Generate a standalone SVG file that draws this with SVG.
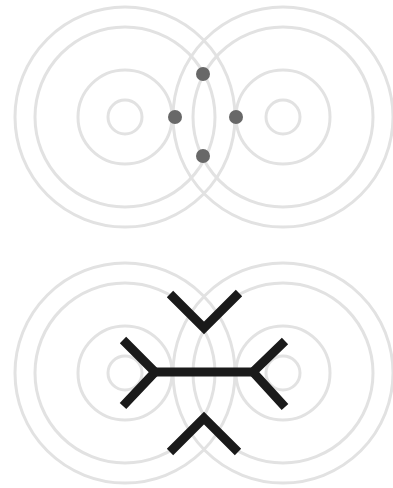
<svg xmlns="http://www.w3.org/2000/svg" width="393" height="488" viewBox="0 0 393 488">
<style>
.ring{fill:none;stroke:#e2e2e2;stroke-width:3}
.dot{fill:#686868}
.bond{fill:none;stroke:#1a1a1a;stroke-width:9;stroke-linecap:butt;stroke-linejoin:miter}
</style>
<defs>
<g id="rings">
<circle class="ring" cx="0" cy="0" r="17"/>
<circle class="ring" cx="0" cy="0" r="47"/>
<circle class="ring" cx="0" cy="0" r="90"/>
<circle class="ring" cx="0" cy="0" r="110"/>
</g>
</defs>
<rect width="393" height="488" fill="#ffffff"/>
<g id="top-left-atom"><use href="#rings" x="125" y="117"/></g>
<g id="top-right-atom"><use href="#rings" x="283" y="117"/></g>
<g id="top-dots">
<circle class="dot" cx="203" cy="74" r="7"/>
<circle class="dot" cx="175" cy="117" r="7"/>
<circle class="dot" cx="236" cy="117" r="7"/>
<circle class="dot" cx="203" cy="156" r="7"/>
</g>
<g id="bottom-left-atom"><use href="#rings" x="125" y="373"/></g>
<g id="bottom-right-atom"><use href="#rings" x="283" y="373"/></g>
<g id="connectors">
<polyline class="bond" points="170,294 204,328 239,293"/>
<polyline class="bond" points="170,452 204,418 238,452"/>
<polyline class="bond" points="123,340 155,372 123,406"/>
<polyline class="bond" points="285,341 253,372 285,407"/>
<line class="bond" x1="155" y1="372" x2="253" y2="372"/>
</g>
</svg>
